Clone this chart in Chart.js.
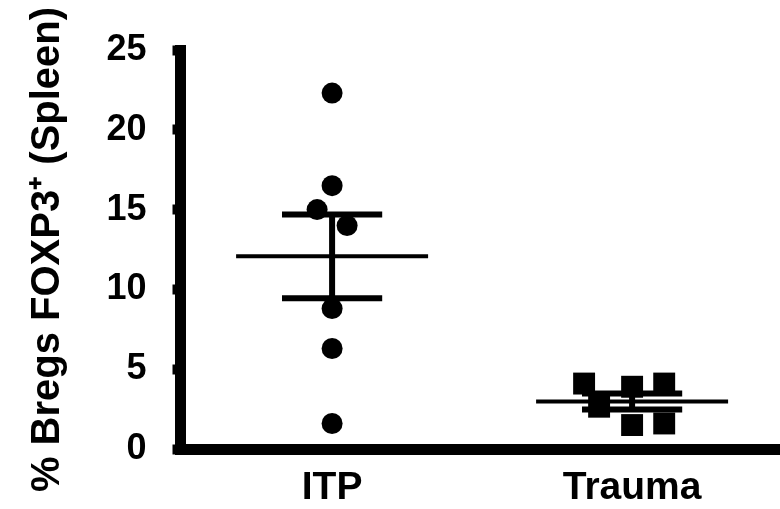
<!DOCTYPE html>
<html>
<head>
<meta charset="utf-8">
<script src="https://cdn.jsdelivr.net/npm/chart.js@4"></script>
<style>
html, body { margin: 0; padding: 0; background: #fff; }
</style>
</head>
<body>
<canvas id="myChart" width="780" height="509"></canvas>
<script>
// groups and values
const categories = ['ITP', 'Trauma'];
const itpValues = [22.3, 16.5, 15.0, 14.0, 8.8, 6.3, 1.6];
const itpJitter = [0, 0, -0.05, 0.05, 0, 0, 0];
const traumaValues = [4.1, 2.65, 3.9, 1.5, 4.1, 1.6];
const traumaJitter = [-0.16, -0.11, 0, 0, 0.107, 0.107];
const yTicks = [0, 5, 10, 15, 20, 25];

const FONT = "'Liberation Sans', Arial, Helvetica, sans-serif";

// mean and SEM of a group
function stats(vals) {
    const n = vals.length;
    const m = vals.reduce((a, b) => a + b, 0) / n;
    const sd = Math.sqrt(vals.reduce((a, b) => a + (b - m) * (b - m), 0) / (n - 1));
    return {mean: m, sem: sd / Math.sqrt(n)};
}

const groups = [itpValues, traumaValues];
const meanPts = [];
const semPts = [];
groups.forEach((vals, i) => {
    const c = i + 1;
    const s = stats(vals);
    meanPts.push({x: c - 0.32, y: s.mean}, {x: c + 0.32, y: s.mean}, {x: c, y: null});
    semPts.push({x: c - 0.167, y: s.mean + s.sem}, {x: c + 0.167, y: s.mean + s.sem}, {x: c, y: null});
    semPts.push({x: c - 0.167, y: s.mean - s.sem}, {x: c + 0.167, y: s.mean - s.sem}, {x: c, y: null});
    semPts.push({x: c, y: s.mean - s.sem}, {x: c, y: s.mean + s.sem}, {x: c, y: null});
});

const itpPts = itpValues.map((v, i) => ({x: 1 + itpJitter[i], y: v}));
const traumaPts = traumaValues.map((v, i) => ({x: 2 + traumaJitter[i], y: v}));

const ctx = document.getElementById('myChart').getContext('2d');
const chart = new Chart(ctx, {
    type: 'scatter',
    data: {
        datasets: [
            {
                label: 'mean',
                data: meanPts,
                showLine: true,
                spanGaps: false,
                borderColor: '#000',
                borderWidth: 4,
                pointRadius: 0
            },
            {
                label: 'sem',
                data: semPts,
                showLine: true,
                spanGaps: false,
                borderColor: '#000',
                borderWidth: 6,
                pointRadius: 0
            },
            {
                label: categories[0],
                data: itpPts,
                pointStyle: 'circle',
                pointRadius: 10.5,
                backgroundColor: '#000',
                borderColor: '#000',
                borderWidth: 0
            },
            {
                label: categories[1],
                data: traumaPts,
                pointStyle: 'rect',
                pointRadius: 15.5,
                backgroundColor: '#000',
                borderColor: '#000',
                borderWidth: 0
            }
        ]
    },
    options: {
        responsive: false,
        animation: false,
        layout: {autoPadding: false, padding: {top: 50, left: 0, right: 0, bottom: 0}},
        plugins: {
            legend: {display: false},
            tooltip: {enabled: false}
        },
        scales: {
            x: {
                type: 'linear',
                min: 0.493,
                max: 2.493,
                afterBuildTicks: scale => {
                    scale.ticks = [{value: 1}, {value: 2}];
                },
                afterFit: scale => {
                    scale.height = 60;
                    scale.paddingLeft = 0;
                    scale.paddingRight = 0;
                },
                ticks: {
                    callback: v => categories[v - 1],
                    color: '#000',
                    font: {family: FONT, size: 39, weight: 'bold'},
                    padding: 16,
                    maxRotation: 0
                },
                grid: {display: true, drawOnChartArea: false, drawTicks: false, lineWidth: 0},
                border: {display: true, color: '#000', width: 11}
            },
            y: {
                min: 0,
                max: 25,
                afterBuildTicks: scale => {
                    scale.ticks = yTicks.map(v => ({value: v}));
                },
                afterFit: scale => { scale.width = 180; },
                ticks: {
                    color: '#000',
                    font: {family: FONT, size: 36, weight: 'bold'},
                    padding: 26
                },
                grid: {
                    display: true,
                    drawOnChartArea: false,
                    drawTicks: true,
                    tickLength: 7.5,
                    tickWidth: 10,
                    tickColor: '#000'
                },
                border: {display: true, color: '#000', width: 11},
                title: {
                    display: true,
                    text: '% Bregs FOXP3\u207A (Spleen)',
                    color: '#000',
                    font: {family: FONT, size: 40, weight: 'bold'},
                    padding: {top: 24, bottom: 0}
                }
            }
        }
    }
});
</script>
</body>
</html>
